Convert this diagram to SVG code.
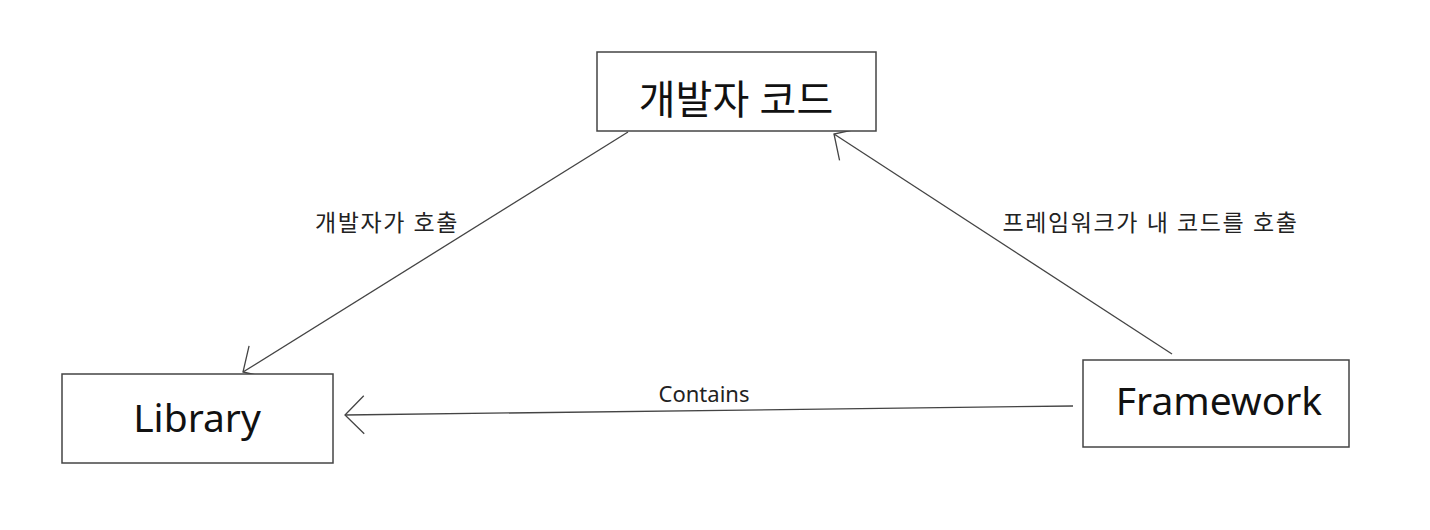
<svg xmlns="http://www.w3.org/2000/svg" width="1430" height="530" viewBox="0 0 1430 530">
<style>
.box{fill:#fff;stroke:#444;stroke-width:1.5}
.big{font-family:"Noto Sans","Noto Sans CJK KR",sans-serif;fill:#111;text-anchor:middle}
.lbl{font-family:"Noto Sans","Noto Sans CJK KR",sans-serif;font-size:22px;fill:#222;text-anchor:middle}
.ko{font-size:23px;letter-spacing:1.6px}
.edge{fill:none;stroke:#444;stroke-width:1.3}
</style>
<defs>
<marker id="arr" markerUnits="userSpaceOnUse" markerWidth="30" markerHeight="50" viewBox="-25 -25 30 50" refX="0" refY="0" orient="auto">
<path d="M-19,-19 L0,0 L-19,19" fill="none" stroke="#444" stroke-width="1.3"/>
</marker>
</defs>
<rect width="1430" height="530" fill="#fff"/>
<g id="connectors">
<line class="edge" x1="628" y1="132" x2="243" y2="372" marker-end="url(#arr)"/>
<line class="edge" x1="1172" y1="354" x2="834" y2="134" marker-end="url(#arr)"/>
<line class="edge" x1="1073" y1="406" x2="345" y2="415" marker-end="url(#arr)"/>
<text class="lbl ko" x="387" y="222" dominant-baseline="central">개발자가 호출</text>
<text class="lbl ko" x="1150.5" y="222" dominant-baseline="central">프레임워크가 내 코드를 호출</text>
<text class="lbl" x="704" y="402">Contains</text>
</g>
<g id="dev-code">
<rect class="box" x="597" y="52" width="279" height="79"/>
<text class="big" x="736" y="98" font-size="40" dominant-baseline="central">개발자 코드</text>
</g>
<g id="library">
<rect class="box" x="62" y="374" width="271" height="89"/>
<text class="big" x="197" y="432" font-size="39">Library</text>
</g>
<g id="framework">
<rect class="box" x="1083" y="360" width="266" height="87"/>
<text class="big" x="1219" y="415" font-size="39">Framework</text>
</g>
</svg>
